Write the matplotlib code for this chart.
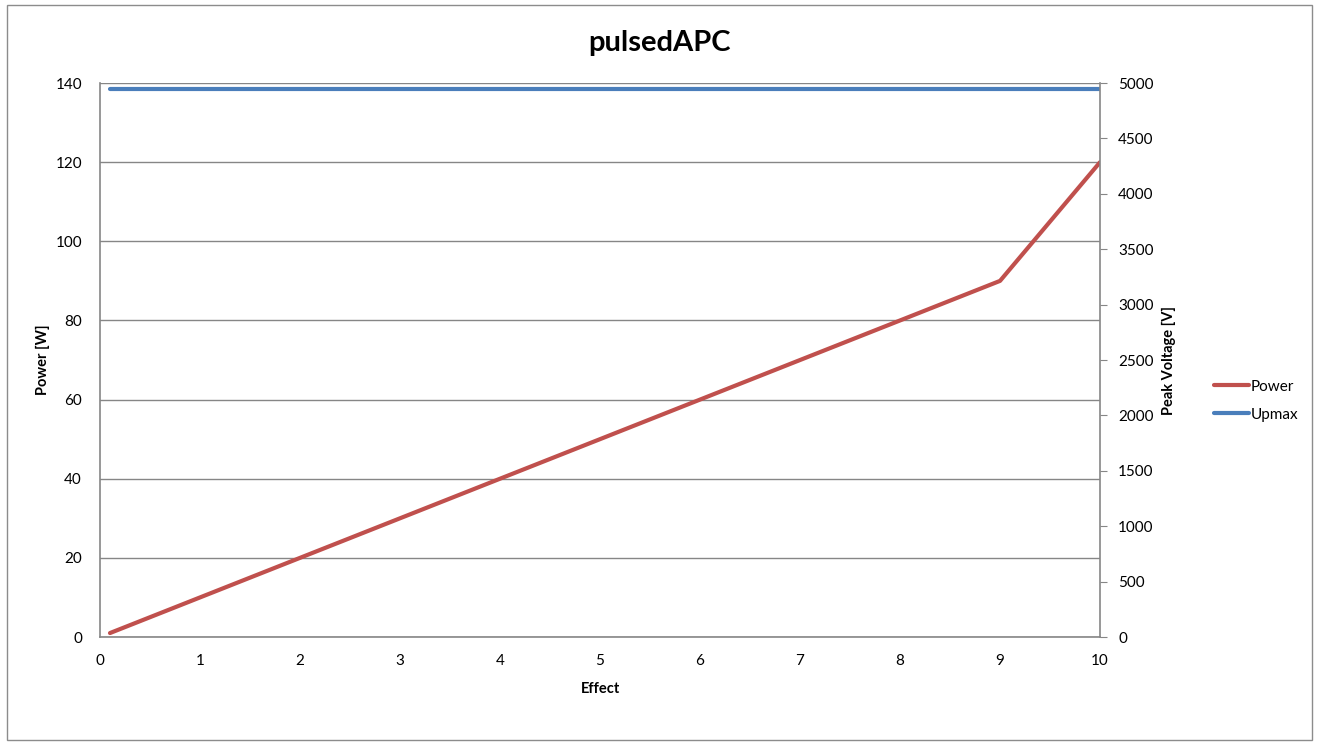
import matplotlib.pyplot as plt
from matplotlib.patches import Rectangle

effect = [0.1, 1, 2, 3, 4, 5, 6, 7, 8, 9, 10]
power = [1, 10, 20, 30, 40, 50, 60, 70, 80, 90, 120]
upmax = [4950] * len(effect)

plt.rcParams["font.family"] = ["Lato", "DejaVu Sans"]

fig = plt.figure(figsize=(13.19, 7.42), dpi=100)
fig.patches.append(Rectangle((0.005, 0.003), 0.99, 0.99, transform=fig.transFigure,
                             fill=False, edgecolor="#8c8c8c", linewidth=1.0))
ax = fig.add_axes([0.0758, 0.1415, 0.7582, 0.7466])
ax2 = ax.twinx()

ax.plot(effect, power, color="#c0504d", lw=3, label="Power", solid_capstyle="round")
ax2.plot(effect, upmax, color="#4a7ebb", lw=3, label="Upmax", solid_capstyle="round")

ax.set_xlim(0, 10)
ax.set_ylim(0, 140)
ax2.set_ylim(0, 5000)
ax.set_xticks(range(0, 11))
ax.set_yticks(range(0, 141, 20))
ax2.set_yticks(range(0, 5001, 500))
ax.grid(axis="y", color="#868686", lw=1)
ax.set_axisbelow(True)

for a in (ax, ax2):
    for s in a.spines.values():
        s.set_visible(False)
ax.spines["left"].set_visible(True)
ax.spines["bottom"].set_visible(True)
ax2.spines["right"].set_visible(True)
for s in (ax.spines["left"], ax.spines["bottom"], ax2.spines["right"]):
    s.set_color("#868686")
    s.set_linewidth(1.2)

ax.tick_params(axis="x", length=0, labelsize=11, pad=12)
ax.tick_params(axis="y", length=0, labelsize=11, pad=13)
ax2.tick_params(axis="y", length=5, color="#868686", labelsize=11, pad=8)

ax.set_xlabel("Effect", fontsize=10.5, fontweight="bold")
ax.xaxis.set_label_coords(0.5, -0.081)
ax.set_ylabel("Power [W]", fontsize=10.5, fontweight="bold")
ax.yaxis.set_label_coords(-0.05, 0.5)
ax2.set_ylabel("Peak Voltage [V]", fontsize=10.5, fontweight="bold", labelpad=6)
fig.text(0.5, 0.942, "pulsedAPC", fontsize=21, fontweight="bold", ha="center", va="center")

h1, l1 = ax.get_legend_handles_labels()
h2, l2 = ax2.get_legend_handles_labels()
fig.legend(h1 + h2, l1 + l2, loc="center left", bbox_to_anchor=(0.91, 0.46),
           frameon=False, fontsize=11, handlelength=2.3, handletextpad=0.1,
           labelspacing=0.9)

fig.savefig("out.png", dpi=100)
